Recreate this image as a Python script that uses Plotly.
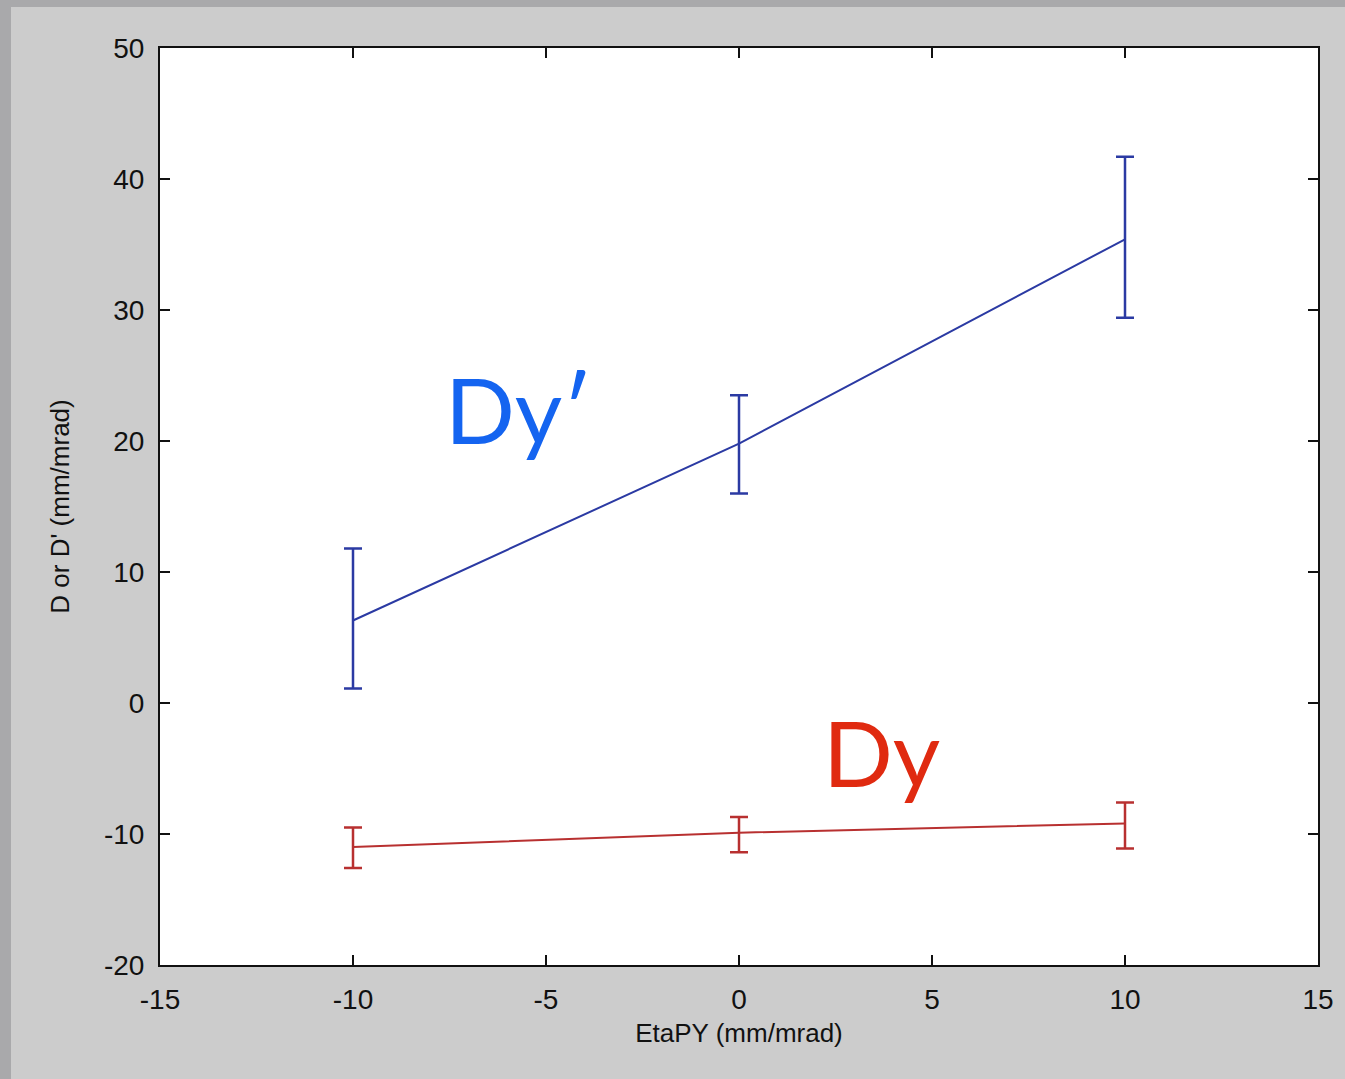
import plotly.graph_objects as go

eta = [-10, 0, 10]
dyp = [6.3, 19.8, 35.4]
dyp_hi = [11.8, 23.5, 41.7]
dyp_lo = [1.1, 16.0, 29.4]
dy = [-11.0, -9.9, -9.2]
dy_hi = [-9.5, -8.7, -7.6]
dy_lo = [-12.6, -11.4, -11.1]

xticks = [-15, -10, -5, 0, 5, 10, 15]
xticklabels = ["-15", "-10", "-5", "0", "5", "10", "15"]
yticks = [-20, -10, 0, 10, 20, 30, 40, 50]
yticklabels = ["-20", "-10", "0", "10", "20", "30", "40", "50"]

W, H = 1345, 1079
L, R, T, B = 160, 27, 48, 114
pw, ph = W - L - R, H - T - B

def px2x(px):
    return (px - L) / pw

def py2y(py):
    return (H - B - py) / ph

fig = go.Figure()
fig.add_trace(go.Scatter(
    x=eta, y=dyp, mode="lines",
    line=dict(color="#2b3aa3", width=2),
    error_y=dict(type="data", symmetric=False,
                 array=[h - v for h, v in zip(dyp_hi, dyp)],
                 arrayminus=[v - l for v, l in zip(dyp, dyp_lo)],
                 color="#2b3aa3", thickness=2.5, width=9),
    showlegend=False))
fig.add_trace(go.Scatter(
    x=eta, y=dy, mode="lines",
    line=dict(color="#b83030", width=2),
    error_y=dict(type="data", symmetric=False,
                 array=[h - v for h, v in zip(dy_hi, dy)],
                 arrayminus=[v - l for v, l in zip(dy, dy_lo)],
                 color="#b83030", thickness=2.5, width=9),
    showlegend=False))

fig.add_annotation(x=-5.7, y=22.5, text="Dy′", showarrow=False,
                   font=dict(family="Lato", size=92, color="#1464f0"),
                   xanchor="center", yanchor="middle")
fig.add_annotation(x=3.7, y=-3.7, text="Dy", showarrow=False,
                   font=dict(family="Lato", size=92, color="#e02a10"),
                   xanchor="center", yanchor="middle")

# metal strips at top and left edges
fig.add_shape(type="rect", xref="paper", yref="paper",
              x0=px2x(0), x1=px2x(W), y0=py2y(7), y1=py2y(0),
              fillcolor="#a9a9ab", line=dict(width=0), layer="below")
fig.add_shape(type="rect", xref="paper", yref="paper",
              x0=px2x(0), x1=px2x(11), y0=py2y(H), y1=py2y(0),
              fillcolor="#a9a9ab", line=dict(width=0), layer="below")

axis_common = dict(showgrid=False, zeroline=False, showline=True,
                   linecolor="#111111", linewidth=2, mirror="allticks",
                   ticks="inside", ticklen=10, tickwidth=2, tickcolor="#111111",
                   tickfont=dict(family="Liberation Sans", size=28, color="#111111"))

fig.update_xaxes(range=[-15, 15], tickvals=xticks, ticktext=xticklabels,
                 autorange=False, ticklabelstandoff=8,
                 title=dict(text="EtaPY (mm/mrad)",
                            font=dict(family="Liberation Sans", size=26, color="#111111"),
                            standoff=10),
                 **axis_common)
fig.update_yaxes(range=[-20, 50], tickvals=yticks, ticktext=yticklabels,
                 autorange=False, ticklabelstandoff=8,
                 title=dict(text="D or D' (mm/mrad)",
                            font=dict(family="Liberation Sans", size=26, color="#111111"),
                            standoff=27),
                 **axis_common)

fig.update_layout(width=W, height=H, autosize=False,
                  margin=dict(l=L, r=R, t=T, b=B),
                  paper_bgcolor="#cccccc", plot_bgcolor="#ffffff")

fig.write_html("out.html")
